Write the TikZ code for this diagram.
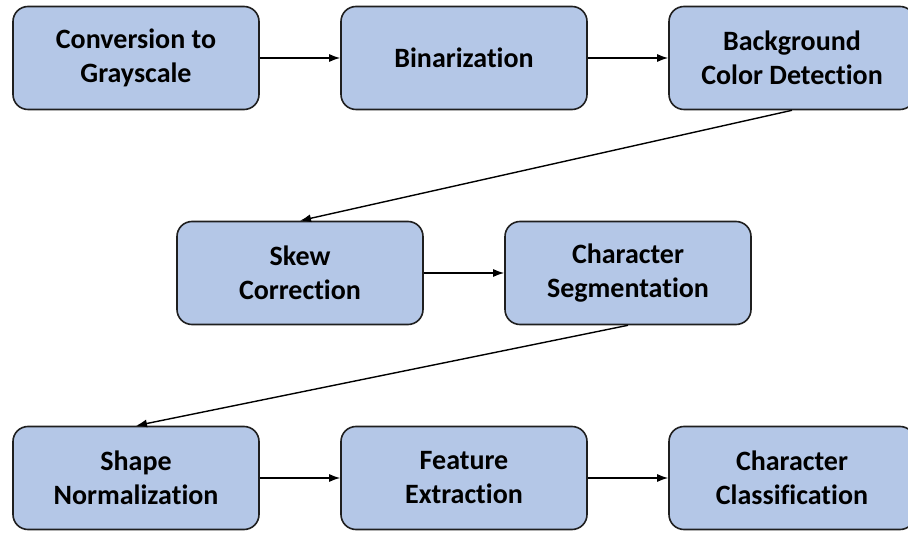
\documentclass[tikz,border=0pt]{standalone}
\usepackage{fontspec}
\setmainfont{Carlito}[RawFeature={-liga;-clig;-dlig;-hlig}]
\usetikzlibrary{arrows.meta}
\definecolor{boxfill}{HTML}{B4C7E7}
\definecolor{boxline}{HTML}{1F1F1F}
\tikzset{
  stage/.style={draw=boxline, line width=1.6pt, fill=boxfill, rounded corners=15pt,
    minimum width=246pt, minimum height=103pt, align=center,
    font=\fontsize{28}{34}\selectfont\bfseries, text=black},
  flow/.style={-{Latex[length=11pt,width=8pt]}, line width=1.4pt, draw=black}
}
\begin{document}
\begin{tikzpicture}[x=1pt,y=-1pt]
\useasboundingbox (0,0) rectangle (908,534);
\node[stage] (gray) at (136,58) {Conversion to\\Grayscale};
\node[stage] (bin) at (464,58) {Binarization};
\node[stage] (bg) at (792,58) {Background\\Color Detection};
\node[stage] (skew) at (300,273) {Skew\\Correction};
\node[stage] (seg) at (628,273) {Character\\Segmentation};
\node[stage] (shape) at (136,478) {Shape\\Normalization};
\node[stage] (feat) at (464,478) {Feature\\Extraction};
\node[stage] (cls) at (792,478) {Character\\Classification};
\draw[flow] (gray) -- (bin);
\draw[flow] (bin) -- (bg);
\draw[flow] (bg.south) -- (skew.north);
\draw[flow] (skew) -- (seg);
\draw[flow] (seg.south) -- (shape.north);
\draw[flow] (shape) -- (feat);
\draw[flow] (feat) -- (cls);
\end{tikzpicture}
\end{document}
